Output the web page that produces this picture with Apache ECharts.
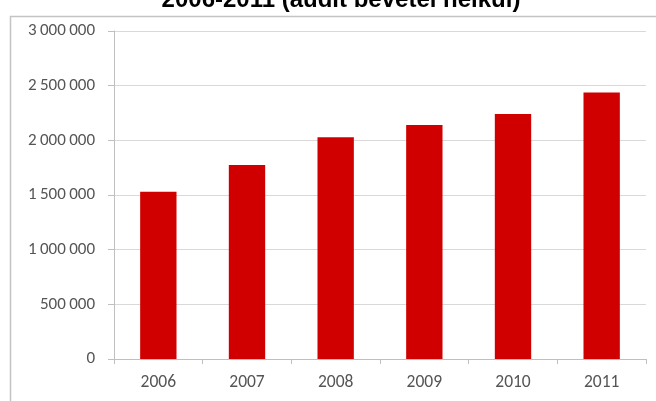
<!DOCTYPE html>
<html>
<head>
<meta charset="utf-8">
<script src="https://cdn.jsdelivr.net/npm/echarts@6/dist/echarts.min.js"></script>
<style>html,body{margin:0;padding:0;background:#fff}#c{width:656px;height:401px}</style>
</head>
<body>
<div id="c"></div>
<script>
const titleText = '2006-2011 (audit bevétel nélkül)';
const categories = ['2006', '2007', '2008', '2009', '2010', '2011'];
const values = [1530000, 1775000, 2028000, 2140000, 2240000, 2438000];
const yTicks = [0, 500000, 1000000, 1500000, 2000000, 2500000, 3000000];

function fmt(v) {
  return String(v).replace(/\B(?=(\d{3})+(?!\d))/g, '\u2009');
}

const chart = echarts.init(document.getElementById('c'));
chart.setOption({
  animation: false,
  backgroundColor: '#fff',
  title: {
    text: titleText,
    left: 336,
    textAlign: 'center',
    top: -17,
    textStyle: { fontFamily: 'Liberation Sans, Arial', fontWeight: 'bold', fontSize: 24, color: '#000' }
  },
  graphic: [{
    type: 'rect',
    shape: { x: 10.5, y: 16.5, width: 800, height: 500 },
    style: { fill: 'none', stroke: '#c4c4c4', lineWidth: 1.5 },
    silent: true
  }],
  grid: { left: 114, right: 10, top: 31, bottom: 42, containLabel: false },
  xAxis: {
    type: 'category',
    data: categories,
    axisLine: { lineStyle: { color: '#bfbfbf' } },
    axisTick: { show: true, alignWithLabel: false, length: 5, lineStyle: { color: '#bfbfbf' } },
    axisLabel: { color: '#555', fontSize: 17.5, fontFamily: 'Carlito, Liberation Sans, Arial', margin: 15 }
  },
  yAxis: {
    type: 'value',
    min: yTicks[0],
    max: yTicks[yTicks.length - 1],
    interval: 500000,
    axisLine: { show: true, lineStyle: { color: '#bfbfbf' } },
    axisTick: { show: true, length: 6, lineStyle: { color: '#bfbfbf' } },
    splitLine: { lineStyle: { color: '#d9d9d9' } },
    axisLabel: { color: '#555', fontSize: 17, fontFamily: 'Carlito, Liberation Sans, Arial', margin: 19, formatter: fmt }
  },
  series: [{
    type: 'bar',
    data: values,
    barWidth: '41%',
    itemStyle: { color: '#d00000' }
  }]
});
</script>
</body>
</html>
